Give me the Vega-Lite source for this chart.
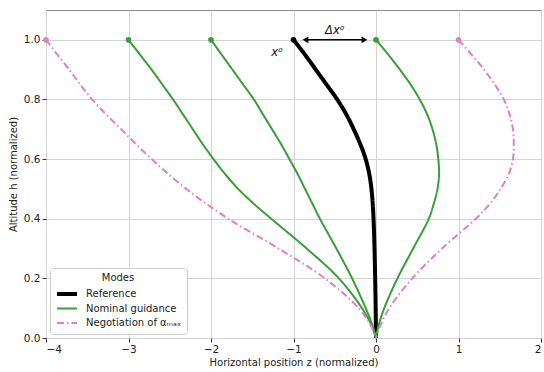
{
  "$schema": "https://vega.github.io/schema/vega-lite/v6.json",
  "width": 495,
  "height": 328,
  "autosize": {"type": "none"},
  "padding": {"left": 46, "top": 10, "right": 3, "bottom": 34},
  "config": {
    "font": "DejaVu Sans",
    "view": {"stroke": "#8a8a8a", "strokeWidth": 1},
    "axis": {
      "domain": false,
      "grid": true,
      "gridColor": "#d4d4d4",
      "gridWidth": 1,
      "ticks": true,
      "tickColor": "#333333",
      "tickSize": 4,
      "labelFontSize": 10.5,
      "labelColor": "#222222",
      "labelPadding": 2,
      "titleFontSize": 10,
      "titleFontWeight": "normal",
      "titleColor": "#222222"
    },
    "legend": {
      "orient": "bottom-left",
      "offset": 4,
      "fillColor": "white",
      "strokeColor": "#cccccc",
      "cornerRadius": 3,
      "padding": 5,
      "titleFontSize": 10,
      "titleFontWeight": "normal",
      "titleColor": "#222222",
      "titleAnchor": "middle",
      "labelFontSize": 10,
      "labelColor": "#222222",
      "symbolType": "stroke",
      "symbolSize": 400,
      "clipHeight": 12,
      "rowPadding": 2.5,
      "labelOffset": 7
    }
  },
  "datasets": {
    "traj": [
      {"traj": "ref", "mode": "Reference", "z": -1.0, "h": 1.0},
      {"traj": "ref", "mode": "Reference", "z": -0.86, "h": 0.95},
      {"traj": "ref", "mode": "Reference", "z": -0.73, "h": 0.9},
      {"traj": "ref", "mode": "Reference", "z": -0.6, "h": 0.85},
      {"traj": "ref", "mode": "Reference", "z": -0.47, "h": 0.8},
      {"traj": "ref", "mode": "Reference", "z": -0.36, "h": 0.75},
      {"traj": "ref", "mode": "Reference", "z": -0.27, "h": 0.7},
      {"traj": "ref", "mode": "Reference", "z": -0.19, "h": 0.65},
      {"traj": "ref", "mode": "Reference", "z": -0.125, "h": 0.6},
      {"traj": "ref", "mode": "Reference", "z": -0.075, "h": 0.54},
      {"traj": "ref", "mode": "Reference", "z": -0.045, "h": 0.47},
      {"traj": "ref", "mode": "Reference", "z": -0.03, "h": 0.4},
      {"traj": "ref", "mode": "Reference", "z": -0.018, "h": 0.3},
      {"traj": "ref", "mode": "Reference", "z": -0.01, "h": 0.2},
      {"traj": "ref", "mode": "Reference", "z": -0.004, "h": 0.1},
      {"traj": "ref", "mode": "Reference", "z": 0.0, "h": 0.0},

      {"traj": "g1", "mode": "Nominal guidance", "z": -3.0, "h": 1.0},
      {"traj": "g1", "mode": "Nominal guidance", "z": -2.86, "h": 0.95},
      {"traj": "g1", "mode": "Nominal guidance", "z": -2.72, "h": 0.9},
      {"traj": "g1", "mode": "Nominal guidance", "z": -2.59, "h": 0.85},
      {"traj": "g1", "mode": "Nominal guidance", "z": -2.46, "h": 0.8},
      {"traj": "g1", "mode": "Nominal guidance", "z": -2.34, "h": 0.75},
      {"traj": "g1", "mode": "Nominal guidance", "z": -2.22, "h": 0.7},
      {"traj": "g1", "mode": "Nominal guidance", "z": -2.1, "h": 0.65},
      {"traj": "g1", "mode": "Nominal guidance", "z": -1.97, "h": 0.6},
      {"traj": "g1", "mode": "Nominal guidance", "z": -1.83, "h": 0.55},
      {"traj": "g1", "mode": "Nominal guidance", "z": -1.67, "h": 0.5},
      {"traj": "g1", "mode": "Nominal guidance", "z": -1.48, "h": 0.45},
      {"traj": "g1", "mode": "Nominal guidance", "z": -1.27, "h": 0.4},
      {"traj": "g1", "mode": "Nominal guidance", "z": -0.84, "h": 0.3},
      {"traj": "g1", "mode": "Nominal guidance", "z": -0.45, "h": 0.2},
      {"traj": "g1", "mode": "Nominal guidance", "z": -0.17, "h": 0.1},
      {"traj": "g1", "mode": "Nominal guidance", "z": -0.05, "h": 0.04},
      {"traj": "g1", "mode": "Nominal guidance", "z": 0.0, "h": 0.0},

      {"traj": "g2", "mode": "Nominal guidance", "z": -2.0, "h": 1.0},
      {"traj": "g2", "mode": "Nominal guidance", "z": -1.87, "h": 0.95},
      {"traj": "g2", "mode": "Nominal guidance", "z": -1.74, "h": 0.9},
      {"traj": "g2", "mode": "Nominal guidance", "z": -1.61, "h": 0.85},
      {"traj": "g2", "mode": "Nominal guidance", "z": -1.48, "h": 0.8},
      {"traj": "g2", "mode": "Nominal guidance", "z": -1.37, "h": 0.75},
      {"traj": "g2", "mode": "Nominal guidance", "z": -1.26, "h": 0.7},
      {"traj": "g2", "mode": "Nominal guidance", "z": -1.15, "h": 0.65},
      {"traj": "g2", "mode": "Nominal guidance", "z": -1.05, "h": 0.6},
      {"traj": "g2", "mode": "Nominal guidance", "z": -0.95, "h": 0.55},
      {"traj": "g2", "mode": "Nominal guidance", "z": -0.86, "h": 0.5},
      {"traj": "g2", "mode": "Nominal guidance", "z": -0.77, "h": 0.45},
      {"traj": "g2", "mode": "Nominal guidance", "z": -0.68, "h": 0.4},
      {"traj": "g2", "mode": "Nominal guidance", "z": -0.48, "h": 0.3},
      {"traj": "g2", "mode": "Nominal guidance", "z": -0.29, "h": 0.2},
      {"traj": "g2", "mode": "Nominal guidance", "z": -0.125, "h": 0.1},
      {"traj": "g2", "mode": "Nominal guidance", "z": -0.04, "h": 0.04},
      {"traj": "g2", "mode": "Nominal guidance", "z": 0.0, "h": 0.0},

      {"traj": "g3", "mode": "Nominal guidance", "z": 0.0, "h": 1.0},
      {"traj": "g3", "mode": "Nominal guidance", "z": 0.15, "h": 0.95},
      {"traj": "g3", "mode": "Nominal guidance", "z": 0.29, "h": 0.9},
      {"traj": "g3", "mode": "Nominal guidance", "z": 0.42, "h": 0.85},
      {"traj": "g3", "mode": "Nominal guidance", "z": 0.53, "h": 0.8},
      {"traj": "g3", "mode": "Nominal guidance", "z": 0.62, "h": 0.75},
      {"traj": "g3", "mode": "Nominal guidance", "z": 0.685, "h": 0.7},
      {"traj": "g3", "mode": "Nominal guidance", "z": 0.73, "h": 0.65},
      {"traj": "g3", "mode": "Nominal guidance", "z": 0.755, "h": 0.6},
      {"traj": "g3", "mode": "Nominal guidance", "z": 0.765, "h": 0.55},
      {"traj": "g3", "mode": "Nominal guidance", "z": 0.745, "h": 0.5},
      {"traj": "g3", "mode": "Nominal guidance", "z": 0.7, "h": 0.45},
      {"traj": "g3", "mode": "Nominal guidance", "z": 0.64, "h": 0.4},
      {"traj": "g3", "mode": "Nominal guidance", "z": 0.45, "h": 0.3},
      {"traj": "g3", "mode": "Nominal guidance", "z": 0.26, "h": 0.2},
      {"traj": "g3", "mode": "Nominal guidance", "z": 0.1, "h": 0.1},
      {"traj": "g3", "mode": "Nominal guidance", "z": 0.03, "h": 0.04},
      {"traj": "g3", "mode": "Nominal guidance", "z": 0.0, "h": 0.0},

      {"traj": "p1", "mode": "Negotiation of αₘₐₓ", "z": -4.0, "h": 1.0},
      {"traj": "p1", "mode": "Negotiation of αₘₐₓ", "z": -3.72, "h": 0.9},
      {"traj": "p1", "mode": "Negotiation of αₘₐₓ", "z": -3.44, "h": 0.8},
      {"traj": "p1", "mode": "Negotiation of αₘₐₓ", "z": -3.09, "h": 0.7},
      {"traj": "p1", "mode": "Negotiation of αₘₐₓ", "z": -2.72, "h": 0.6},
      {"traj": "p1", "mode": "Negotiation of αₘₐₓ", "z": -2.3, "h": 0.5},
      {"traj": "p1", "mode": "Negotiation of αₘₐₓ", "z": -1.79, "h": 0.4},
      {"traj": "p1", "mode": "Negotiation of αₘₐₓ", "z": -1.18, "h": 0.3},
      {"traj": "p1", "mode": "Negotiation of αₘₐₓ", "z": -0.62, "h": 0.2},
      {"traj": "p1", "mode": "Negotiation of αₘₐₓ", "z": -0.21, "h": 0.1},
      {"traj": "p1", "mode": "Negotiation of αₘₐₓ", "z": -0.06, "h": 0.04},
      {"traj": "p1", "mode": "Negotiation of αₘₐₓ", "z": 0.0, "h": 0.0},

      {"traj": "p2", "mode": "Negotiation of αₘₐₓ", "z": 1.0, "h": 1.0},
      {"traj": "p2", "mode": "Negotiation of αₘₐₓ", "z": 1.16, "h": 0.95},
      {"traj": "p2", "mode": "Negotiation of αₘₐₓ", "z": 1.31, "h": 0.9},
      {"traj": "p2", "mode": "Negotiation of αₘₐₓ", "z": 1.44, "h": 0.85},
      {"traj": "p2", "mode": "Negotiation of αₘₐₓ", "z": 1.55, "h": 0.8},
      {"traj": "p2", "mode": "Negotiation of αₘₐₓ", "z": 1.62, "h": 0.75},
      {"traj": "p2", "mode": "Negotiation of αₘₐₓ", "z": 1.66, "h": 0.7},
      {"traj": "p2", "mode": "Negotiation of αₘₐₓ", "z": 1.67, "h": 0.65},
      {"traj": "p2", "mode": "Negotiation of αₘₐₓ", "z": 1.66, "h": 0.6},
      {"traj": "p2", "mode": "Negotiation of αₘₐₓ", "z": 1.61, "h": 0.55},
      {"traj": "p2", "mode": "Negotiation of αₘₐₓ", "z": 1.51, "h": 0.5},
      {"traj": "p2", "mode": "Negotiation of αₘₐₓ", "z": 1.38, "h": 0.45},
      {"traj": "p2", "mode": "Negotiation of αₘₐₓ", "z": 1.21, "h": 0.4},
      {"traj": "p2", "mode": "Negotiation of αₘₐₓ", "z": 0.8, "h": 0.3},
      {"traj": "p2", "mode": "Negotiation of αₘₐₓ", "z": 0.44, "h": 0.2},
      {"traj": "p2", "mode": "Negotiation of αₘₐₓ", "z": 0.16, "h": 0.1},
      {"traj": "p2", "mode": "Negotiation of αₘₐₓ", "z": 0.05, "h": 0.04},
      {"traj": "p2", "mode": "Negotiation of αₘₐₓ", "z": 0.0, "h": 0.0}
    ],
    "arrow": [
      {"z1": -0.85, "z2": -0.145, "h": 1.0}
    ],
    "heads": [
      {"side": "left", "z": -0.855, "h": 1.0},
      {"side": "right", "z": -0.14, "h": 1.0}
    ],
    "labels": [
      {"label": "Δx⁰", "z": -0.5, "h": 1.03},
      {"label": "x⁰", "z": -1.2, "h": 0.955}
    ]
  },
  "encoding": {
    "x": {
      "field": "z",
      "type": "quantitative",
      "scale": {"domain": [-4, 2], "nice": false, "zero": false},
      "axis": {
        "values": [-4, -3, -2, -1, 0, 1, 2],
        "format": "d",
        "title": "Horizontal position z (normalized)",
        "titlePadding": 3
      }
    },
    "y": {
      "field": "h",
      "type": "quantitative",
      "scale": {"domain": [0, 1.1], "nice": false},
      "axis": {
        "values": [0, 0.2, 0.4, 0.6, 0.8, 1.0],
        "format": ".1f",
        "title": "Altitude h (normalized)",
        "titlePadding": 5
      }
    }
  },
  "layer": [
    {
      "data": {"name": "traj"},
      "mark": {"type": "line", "strokeCap": "butt", "interpolate": "catmull-rom"},
      "encoding": {
        "detail": {"field": "traj", "type": "nominal"},
        "order": {"field": "h", "sort": "descending"},
        "color": {
          "field": "mode",
          "type": "nominal",
          "title": "Modes",
          "scale": {
            "domain": ["Reference", "Nominal guidance", "Negotiation of αₘₐₓ"],
            "range": ["#000000", "#3a9d3a", "#e07fc6"]
          }
        },
        "strokeDash": {
          "field": "mode",
          "type": "nominal",
          "title": "Modes",
          "scale": {
            "domain": ["Reference", "Nominal guidance", "Negotiation of αₘₐₓ"],
            "range": [[1, 0], [1, 0], [7, 3, 1.5, 3]]
          }
        },
        "strokeWidth": {
          "field": "mode",
          "type": "nominal",
          "title": "Modes",
          "scale": {
            "type": "ordinal",
            "domain": ["Reference", "Nominal guidance", "Negotiation of αₘₐₓ"],
            "range": [4, 2, 2]
          }
        }
      }
    },
    {
      "data": {"name": "traj"},
      "transform": [{"filter": "datum.h == 1"}],
      "mark": {"type": "point", "filled": true, "opacity": 1, "size": 32},
      "encoding": {
        "color": {"field": "mode", "type": "nominal", "title": "Modes"}
      }
    },
    {
      "data": {"name": "arrow"},
      "mark": {"type": "rule", "color": "black", "strokeWidth": 1.5},
      "encoding": {
        "x": {"field": "z1", "type": "quantitative"},
        "x2": {"field": "z2"},
        "y": {"field": "h", "type": "quantitative"}
      }
    },
    {
      "data": {"name": "heads"},
      "mark": {"type": "point", "filled": true, "color": "black", "opacity": 1, "size": 45},
      "encoding": {
        "shape": {
          "field": "side",
          "type": "nominal",
          "legend": null,
          "scale": {"domain": ["left", "right"], "range": ["triangle-left", "triangle-right"]}
        }
      }
    },
    {
      "data": {"name": "labels"},
      "mark": {"type": "text", "fontSize": 11.5, "fontStyle": "italic", "color": "#111111", "align": "center", "baseline": "middle"},
      "encoding": {
        "text": {"field": "label", "type": "nominal"}
      }
    }
  ]
}
